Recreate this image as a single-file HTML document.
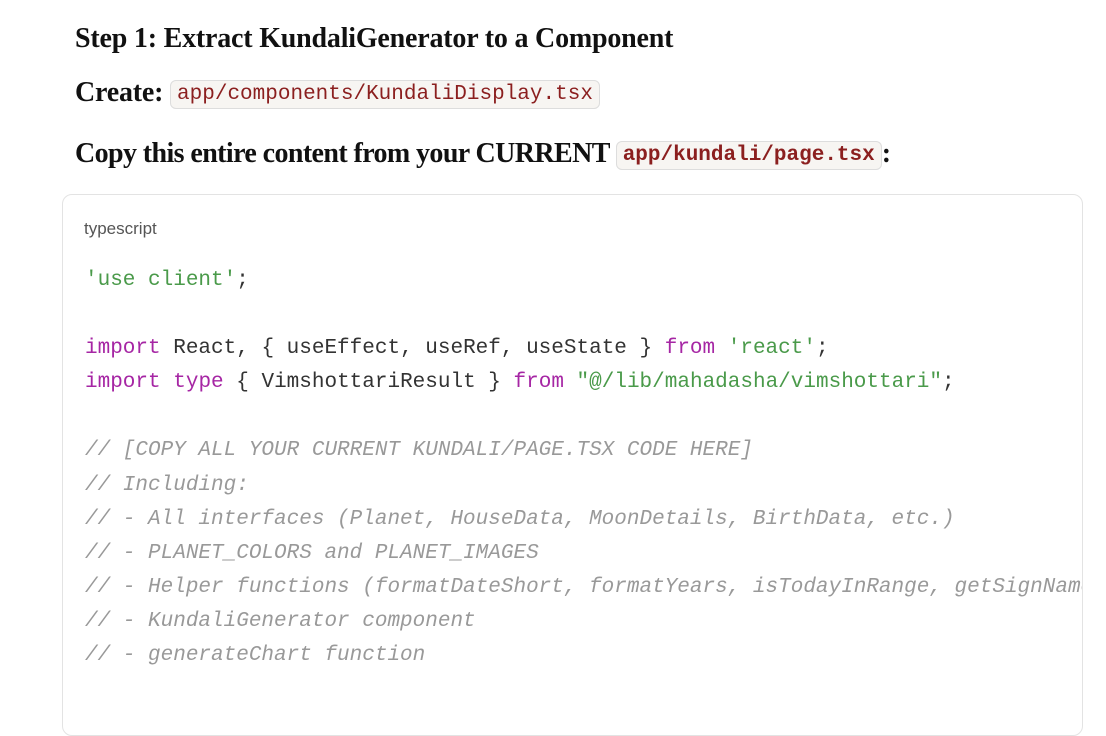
<!DOCTYPE html>
<html><head><meta charset="utf-8"><style>
body{margin:0;width:1106px;height:697px;background:#fff;overflow:hidden;position:relative;font-family:"Liberation Serif",serif;}
.h{position:absolute;left:75px;font-weight:bold;font-size:28px;color:#111;letter-spacing:-0.2px;white-space:nowrap;line-height:34px}
.ic{font-family:"Liberation Mono",monospace;font-weight:normal;font-size:21px;color:#8b1f1f;background:#f7f5f2;border:1px solid #ddd;border-radius:6px;padding:2px 6px;letter-spacing:0px;vertical-align:2px}
.box{position:absolute;left:62px;top:194px;width:1019px;height:540px;border:1px solid #e3e3e3;border-radius:10px;overflow:hidden}
.lang{position:absolute;left:21px;top:24px;font-family:"Liberation Sans",sans-serif;font-size:17px;color:#555}
.code{position:absolute;left:22px;top:69px;font-family:"Liberation Mono",monospace;font-size:21px;line-height:34.1px;white-space:pre;color:#333}
.s{color:#4a9a4a}.k{color:#a626a4}.c{color:#999;font-style:italic}
</style></head><body>
<div class="h" style="top:22px">Step 1: Extract KundaliGenerator to a Component</div>
<div class="h" style="top:76px">Create: <span class="ic">app/components/KundaliDisplay.tsx</span></div>
<div class="h" style="top:137px;letter-spacing:-0.6px">Copy this entire content from your CURRENT <span class="ic" style="font-weight:bold">app/kundali/page.tsx</span>:</div>
<div class="box">
<div class="lang">typescript</div>
<div class="code"><span class="s">'use client'</span>;

<span class="k">import</span> React, { useEffect, useRef, useState } <span class="k">from</span> <span class="s">'react'</span>;
<span class="k">import</span> <span class="k">type</span> { VimshottariResult } <span class="k">from</span> <span class="s">"@/lib/mahadasha/vimshottari"</span>;

<span class="c">// [COPY ALL YOUR CURRENT KUNDALI/PAGE.TSX CODE HERE]</span>
<span class="c">// Including:</span>
<span class="c">// - All interfaces (Planet, HouseData, MoonDetails, BirthData, etc.)</span>
<span class="c">// - PLANET_COLORS and PLANET_IMAGES</span>
<span class="c">// - Helper functions (formatDateShort, formatYears, isTodayInRange, getSignName)</span>
<span class="c">// - KundaliGenerator component</span>
<span class="c">// - generateChart function</span></div>
</div>
</body></html>
